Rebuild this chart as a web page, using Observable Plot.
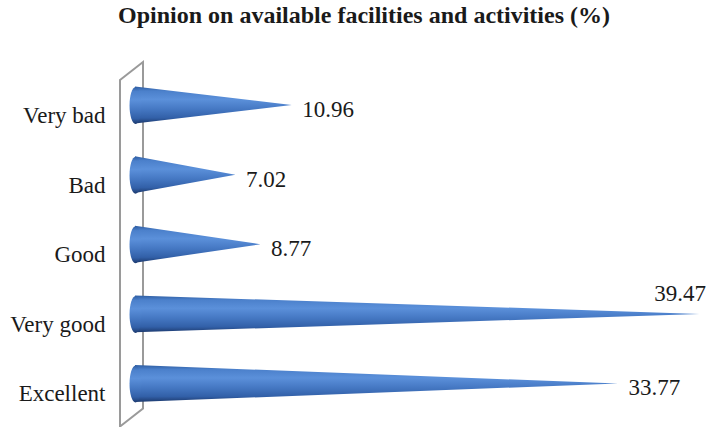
<!DOCTYPE html>
<html>
<head>
<meta charset="utf-8">
<script src="https://cdn.jsdelivr.net/npm/d3@7"></script>
<script src="https://cdn.jsdelivr.net/npm/@observablehq/plot@0.6"></script>
<style>
  html, body { margin: 0; padding: 0; background: #fff; }
  #title {
    box-sizing: border-box;
    height: 40px;
    padding: 3px 0 0 20px;
    font-family: 'Liberation Serif';
    font-weight: bold;
    font-size: 24px;
    line-height: 24px;
    color: #1a1a1a;
    text-align: center;
    white-space: nowrap;
  }
  #chart svg { display: block; }
</style>
</head>
<body>
<div id="title">Opinion on available facilities and activities (%)</div>
<div id="chart"></div>
<script>
// Survey answers, top to bottom
const categories = ["Very bad", "Bad", "Good", "Very good", "Excellent"];
const percents = [10.96, 7.02, 8.77, 39.47, 33.77];

const n = categories.length;
const coneHalf = 0.265;          // half thickness of a cone, in category rows
const serif = "Liberation Serif";

// Each cone is an area: full thickness at 0, closing to a point at its value
const coneRows = categories.flatMap((cat, i) => [
  {cat, x: 0, y1: i - coneHalf, y2: i + coneHalf},
  {cat, x: percents[i], y1: i, y2: i}
]);
const labels = categories.map((cat, i) => ({cat, i, v: percents[i]}));

// Elliptical cap for the round base of each cone
const ellipse = {
  draw(ctx, size) {
    const ry = Math.sqrt(size / Math.PI), rx = ry / 3.1, k = 0.5523;
    ctx.moveTo(rx, 0);
    ctx.bezierCurveTo(rx, k * ry, k * rx, ry, 0, ry);
    ctx.bezierCurveTo(-k * rx, ry, -rx, k * ry, -rx, 0);
    ctx.bezierCurveTo(-rx, -k * ry, -k * rx, -ry, 0, -ry);
    ctx.bezierCurveTo(k * rx, -ry, rx, -k * ry, rx, 0);
    ctx.closePath();
  }
};

// Thin 3D side wall behind the category axis
function wall(index, {x, y}) {
  const x0 = x(0);
  const back = x0 + 8, front = x0 - 15, depth = 18;
  const yTop = y(0) - 43, yBot = y(n - 1) + 25;
  return d3.create("svg:path")
    .attr("d", `M${front},${yTop + depth}L${back},${yTop}L${back},${yBot}L${front},${yBot + depth}Z`)
    .attr("fill", "none")
    .attr("stroke", "#9a9a9a")
    .attr("stroke-width", 2)
    .node();
}

const overflows = d => d.v > 36;
const fmt = d => d.v.toFixed(2);

const chart = Plot.plot({
  width: 708,
  height: 387,
  marginLeft: 135,
  marginRight: 1,
  marginTop: 65,
  marginBottom: 43.5,
  style: {fontFamily: serif, fontSize: "23px", color: "#1a1a1a", background: "#fff", overflow: "visible"},
  x: {domain: [0, 40], axis: null},
  y: {domain: [0, n - 1], reverse: true, axis: null},
  marks: [
    wall,
    Plot.areaY(coneRows, {x: "x", y1: "y1", y2: "y2", z: "cat", fill: "url(#coneShade)", curve: "linear"}),
    Plot.dot(labels, {x: () => 0, y: "i", r: 18.5, symbol: ellipse, fill: "url(#coneShade)", stroke: null}),
    Plot.axisY(d3.range(n), {
      tickFormat: i => categories[i], tickSize: 0, tickPadding: 30, dy: 10,
      fontSize: 23, fontFamily: serif, fill: "#1a1a1a", label: null
    }),
    Plot.text(labels.filter(d => !overflows(d)), {
      x: "v", y: "i", text: fmt, textAnchor: "start", dx: 10, dy: 4,
      fontSize: 23, fontFamily: serif, fill: "#1a1a1a"
    }),
    Plot.text(labels.filter(overflows), {
      x: "v", y: "i", text: fmt, textAnchor: "end", dx: 6, dy: -21,
      fontSize: 23, fontFamily: serif, fill: "#1a1a1a"
    })
  ]
});

// Vertical shading that gives the cones their rounded look
const defs = d3.select(chart).insert("defs", ":first-child");
const grad = defs.append("linearGradient")
  .attr("id", "coneShade")
  .attr("x1", 0).attr("y1", 0).attr("x2", 0).attr("y2", 1);
[
  [0, "#2f5ea3"],
  [0.12, "#4b80cb"],
  [0.35, "#5b90da"],
  [0.6, "#4679c4"],
  [0.85, "#3260a8"],
  [1, "#1d3a6e"]
].forEach(([o, c]) => grad.append("stop").attr("offset", o).attr("stop-color", c));

document.getElementById("chart").appendChild(chart);
</script>
</body>
</html>
